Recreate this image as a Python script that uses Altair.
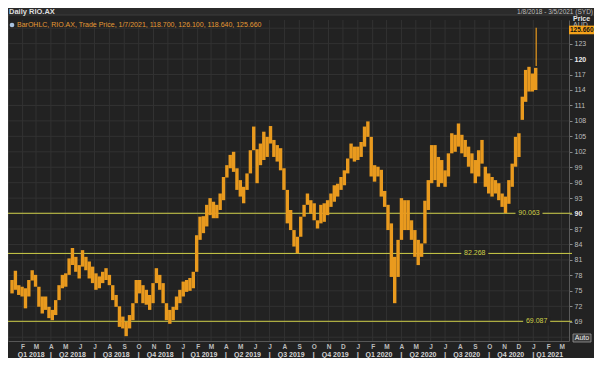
import altair as alt
import pandas as pd

# ---------------- data ----------------
week_start = "2018-01-08"          # weekly bars, Monday of each week
weekly_low = [
    74.5, 75.2, 74.2, 73.9, 71.6, 73.9, 77.0, 75.8, 71.9, 70.6,
    71.3, 69.7, 69.3, 70.3, 73.2, 75.5, 75.8, 78.1, 80.0, 78.7,
    77.4, 79.7, 79.0, 77.4, 76.5, 75.2, 75.5, 76.5, 77.1, 76.1,
    73.2, 71.9, 68.0, 67.7, 66.2, 67.7, 69.3, 72.6, 74.5, 72.6,
    72.3, 71.3, 72.6, 76.5, 75.2, 72.6, 69.3, 68.6, 69.3, 71.3,
    72.6, 73.9, 74.8, 75.0, 75.5, 78.7, 84.9, 86.2, 87.5, 89.7,
    89.1, 89.1, 90.7, 92.6, 97.0, 98.8, 98.1, 94.6, 93.3, 92.0,
    94.6, 97.8, 102.3, 95.9, 99.4, 100.4, 101.0, 103.6, 101.0, 100.1,
    98.4, 94.6, 88.1, 86.8, 83.6, 82.3, 85.5, 89.4, 91.7, 90.0,
    88.7, 87.1, 88.1, 88.4, 89.7, 91.3, 92.3, 93.3, 94.6, 95.5,
    97.8, 100.7, 100.1, 100.4, 101.0, 103.0, 104.9, 97.2, 96.2, 97.2,
    93.3, 91.3, 86.8, 77.7, 72.6, 77.7, 84.9, 86.8, 86.8, 84.9,
    81.6, 80.0, 81.6, 84.2, 90.7, 95.9, 96.5, 95.2, 95.9, 95.2,
    97.2, 101.7, 102.0, 103.0, 101.7, 101.0, 99.1, 97.8, 95.9, 97.2,
    99.7, 95.2, 93.9, 93.3, 93.9, 92.6, 91.3, 90.1, 91.9, 95.2,
    99.1, 101.0, 108.2, 111.7, 113.7, 113.7, 114.0,
]
weekly_high = [
    77.1, 78.9, 76.1, 75.8, 75.5, 77.1, 79.0, 78.1, 75.8, 73.9,
    73.9, 71.9, 71.3, 73.2, 76.1, 78.1, 78.4, 81.3, 83.3, 81.6,
    80.0, 82.9, 81.6, 80.7, 79.7, 78.4, 77.8, 78.7, 79.4, 78.1,
    76.1, 74.2, 72.0, 70.0, 69.0, 70.3, 72.6, 77.1, 77.1, 76.1,
    75.2, 74.2, 76.5, 79.4, 78.1, 76.5, 72.6, 71.3, 71.9, 73.9,
    75.2, 76.8, 77.1, 77.5, 78.7, 85.8, 89.4, 89.5, 91.7, 93.0,
    92.3, 91.7, 93.9, 97.1, 99.4, 101.4, 102.0, 98.8, 96.5, 95.2,
    97.8, 102.3, 106.9, 102.5, 103.6, 105.9, 104.9, 107.0, 104.3, 103.3,
    102.7, 98.8, 94.6, 90.7, 86.8, 85.5, 89.4, 91.7, 93.9, 92.6,
    92.0, 88.7, 91.7, 92.0, 92.6, 93.9, 95.5, 95.8, 97.1, 98.4,
    100.7, 103.6, 103.0, 103.0, 103.9, 106.9, 107.9, 104.9, 99.4, 99.1,
    98.5, 94.4, 91.7, 88.1, 81.6, 84.9, 93.0, 92.6, 92.6, 88.7,
    86.8, 84.9, 84.2, 92.5, 96.5, 103.3, 103.3, 101.0, 100.4, 98.4,
    101.7, 105.6, 105.3, 107.5, 105.3, 104.3, 103.0, 101.7, 100.4, 102.3,
    104.3, 99.1, 97.8, 97.1, 96.5, 95.9, 93.9, 93.3, 96.5, 99.7,
    104.9, 105.6, 112.7, 117.9, 118.5, 117.2, 118.3,
]
last_day = "2021-01-07"
last_low = 118.64
last_high = 126.10
last_close = 125.66
legend_text = "BarOHLC, RIO.AX, Trade Price, 1/7/2021, 118.700, 126.100, 118.640, 125.660"
title_text = "Daily RIO.AX"
range_text = "1/8/2018 - 3/5/2021 (SYD)"

levels = [90.063, 82.268, 69.087]
level_label_dates = ["2020-12-23", "2020-09-01", "2021-01-08"]

y_tick_values = list(range(69, 124, 3))
grid_values = list(range(66, 127, 3))
month_starts = pd.date_range("2018-02-01", "2021-03-01", freq="MS").strftime("%Y-%m-%d").tolist()
quarter_names = ["Q1 2018", "Q2 2018", "Q3 2018", "Q4 2018",
                 "Q1 2019", "Q2 2019", "Q3 2019", "Q4 2019",
                 "Q1 2020", "Q2 2020", "Q3 2020", "Q4 2020", "Q1 2021"]
quarter_centers = ["2018-02-19", "2018-05-16", "2018-08-15", "2018-11-15",
                   "2019-02-14", "2019-05-16", "2019-08-15", "2019-11-15",
                   "2020-02-14", "2020-05-16", "2020-08-15", "2020-11-15", "2021-02-04"]
quarter_breaks = ["2018-04-01", "2018-07-01", "2018-10-01", "2019-01-01",
                  "2019-04-01", "2019-07-01", "2019-10-01", "2020-01-01",
                  "2020-04-01", "2020-07-01", "2020-10-01", "2021-01-01"]
x_start, x_end = "2018-01-12", "2021-03-06"

# ---------------- styling ----------------
W, H = 561, 321
RIGHT = 25
BG = "#222222"
HEAD = "#2b2b2b"
GRID = "#323232"
ORANGE = "#E99A1E"
YELLOW = "#CFCF48"
TXT = "#bdbdbd"
FONT = "Liberation Sans"


def ms(d):
    return int(pd.Timestamp(d, tz="UTC").timestamp() * 1000)


centers = (pd.date_range(week_start, periods=len(weekly_low), freq="7D")
           + pd.Timedelta(days=2)).strftime("%Y-%m-%d").tolist()
bars_df = pd.DataFrame({"date": centers, "low": weekly_low, "high": weekly_high})
last_df = pd.DataFrame({"date": [last_day], "low": [last_low], "high": [last_high]})

xs = alt.Scale(type="utc", nice=False, domain=[ms(x_start), ms(x_end)])
ys = alt.Scale(domain=[65.26, 127.59], nice=False, zero=False)

x_axis = alt.Axis(orient="bottom", values=[ms(d) for d in month_starts],
                  labelExpr="substring(utcFormat(datum.value, '%b'), 0, 1)",
                  grid=False, ticks=False, domain=True, domainColor="#575757",
                  labelColor=TXT, labelFontSize=6.5, labelFontWeight="bold",
                  labelPadding=2, labelFlush=False, labelOverlap=False,
                  labelFont=FONT, title=None)
y_axis = alt.Axis(orient="right", values=y_tick_values, grid=False,
                  tickSize=3, tickColor="#8a8a8a", domainColor="#5a5a5a",
                  labelColor=alt.condition("datum.value == 90 || datum.value == 120",
                                           alt.value("#ececec"), alt.value(TXT)),
                  labelFontWeight=alt.condition("datum.value == 90 || datum.value == 120",
                                                alt.value("bold"), alt.value("normal")),
                  labelFontSize=7, labelPadding=2, labelFont=FONT, title=None)


def X(field):
    return alt.X(field, scale=xs, axis=x_axis)


def Y(field):
    return alt.Y(field, scale=ys, axis=y_axis)


one = pd.DataFrame({"k": [0]})

header = alt.Chart(one).mark_rect(color=HEAD).encode(
    x=alt.value(0), x2=alt.value(W + RIGHT), y=alt.value(-12), y2=alt.value(-5))
header_line = alt.Chart(one).mark_rule(color="#3d3d3d").encode(
    x=alt.value(0), x2=alt.value(W + RIGHT), y=alt.value(-5))

vgrid = alt.Chart(pd.DataFrame({"date": month_starts})).mark_rule(color=GRID).encode(
    x=X("date:T"), y=alt.value(0), y2=alt.value(H))
hgrid = alt.Chart(pd.DataFrame({"v": grid_values})).mark_rule(color=GRID).encode(
    y=Y("v:Q"), x=alt.value(0), x2=alt.value(W))

left_border = alt.Chart(one).mark_rule(color="#4a4a4a").encode(
    x=alt.value(0), y=alt.value(-5), y2=alt.value(H))

lev_df = pd.DataFrame({"v": levels, "date": level_label_dates,
                       "label": [f"{v:.3f}" for v in levels]})
lev_rules = alt.Chart(lev_df).mark_rule(color=YELLOW, strokeWidth=1).encode(
    y=Y("v:Q"), x=alt.value(0), x2=alt.value(W + 3))
lev_bg = alt.Chart(lev_df).mark_point(
    shape="M-1,-0.3L1,-0.3L1,0.3L-1,0.3Z", filled=True, opacity=1,
    color=BG, size=27 * 27, strokeWidth=0).encode(x=X("date:T"), y=Y("v:Q"))
lev_txt = alt.Chart(lev_df).mark_text(color=YELLOW, fontSize=7, font=FONT).encode(
    x=X("date:T"), y=Y("v:Q"), text="label:N")

bars = alt.Chart(bars_df).mark_bar(width=3.4, color=ORANGE, clip=True).encode(
    x=X("date:T"), y=Y("low:Q"), y2="high:Q")
last_bar = alt.Chart(last_df).mark_rule(color=ORANGE, strokeWidth=1.2).encode(
    x=X("date:T"), y=Y("low:Q"), y2="high:Q")

tag_df = pd.DataFrame({"v": [last_close], "label": [f"{last_close:.3f}"]})
tag = alt.Chart(tag_df).mark_point(
    shape="M-1,-0.27L1,-0.27L1,0.27L-1,0.27Z", filled=True, opacity=1,
    color="#F5A31A", size=32 * 32, strokeWidth=0).encode(
    x=alt.value(W + 16), y=Y("v:Q"))
tag_txt = alt.Chart(tag_df).mark_text(color="#111111", fontSize=6.5, fontWeight="bold",
                                      font=FONT, align="left").encode(
    x=alt.value(W + 1), y=Y("v:Q"), text="label:N")


def label(text, x, y, align="left", size=7, color=TXT, weight="normal"):
    return alt.Chart(pd.DataFrame({"t": [text]})).mark_text(
        align=align, baseline="middle", fontSize=size, color=color,
        fontWeight=weight, font=FONT).encode(
        x=alt.value(x), y=alt.value(y), text="t:N")


title = label(title_text, 1, -8.5, size=7.5, color="#dedede", weight="bold")
rng = label(range_text, W + RIGHT - 1, -8.5, align="right", size=6.5, color=TXT)
price = label("Price", W + 4, -1.5, size=7, color="#e6e6e6", weight="bold")
aud = label("AUD", W + 4, 4.5, size=7, color=TXT)
legend = label(legend_text, 9, 5, size=7, color="#E49A35")
icon = alt.Chart(one).mark_point(shape="circle", filled=True, opacity=1, size=22,
                                 color="#a9c3e0").encode(x=alt.value(4), y=alt.value(5))

auto_box = alt.Chart(one).mark_rect(fill="#3a3a3a", stroke="#9a9a9a", strokeWidth=0.8).encode(
    x=alt.value(W + 4), x2=alt.value(W + 22), y=alt.value(314), y2=alt.value(322))
auto_txt = label("Auto", W + 13, 318, align="center", size=7, color="#f0f0f0")

q_df = pd.DataFrame({"date": quarter_centers, "q": quarter_names})
q_txt = alt.Chart(q_df).mark_text(fontSize=7, fontWeight="bold", color="#d4d4d4",
                                  font=FONT, baseline="middle").encode(
    x=X("date:T"), y=alt.value(H + 13.5), text="q:N")
qb_df = pd.DataFrame({"date": quarter_breaks, "t": ["|"] * len(quarter_breaks)})
qb_txt = alt.Chart(qb_df).mark_text(fontSize=8, fontWeight="bold", color="#c8c8c8",
                                    font=FONT, baseline="middle").encode(
    x=X("date:T"), y=alt.value(H + 13.5), text="t:N")

chart = alt.layer(
    header, header_line, vgrid, hgrid, left_border, lev_rules, bars, last_bar,
    lev_bg, lev_txt, aud, tag, tag_txt, title, rng, price, legend, icon,
    auto_box, auto_txt, q_txt, qb_txt,
).properties(
    width=W, height=H,
    autosize=alt.AutoSizeParams(type="none"),
    padding={"left": 0, "top": 12, "right": RIGHT, "bottom": 17},
).configure(background=BG).configure_view(stroke=None, fill=BG)

chart.save("out.html", embed_options={"renderer": "svg", "actions": False})
